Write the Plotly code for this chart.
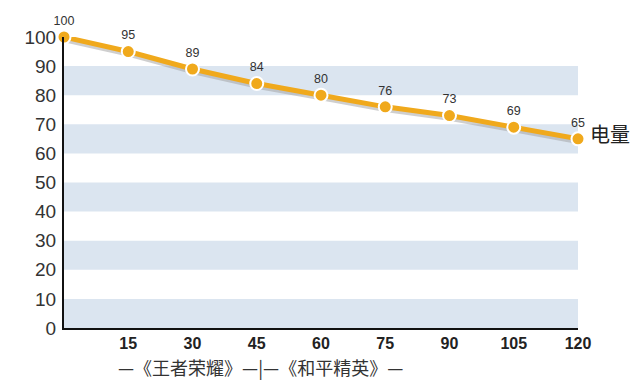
import plotly.graph_objects as go

minutes = [0, 15, 30, 45, 60, 75, 90, 105, 120]
battery = [100, 95, 89, 84, 80, 76, 73, 69, 65]
x_ticks = [15, 30, 45, 60, 75, 90, 105, 120]
y_ticks = [0, 10, 20, 30, 40, 50, 60, 70, 80, 90, 100]
band_starts = [0, 20, 40, 60, 80]
series_name = "电量"
subtitle = "—《王者荣耀》—|—《和平精英》—"

orange = "#f0a91c"
fig = go.Figure()

# shadow
fig.add_trace(go.Scatter(
    x=minutes, y=[v - 0.9 for v in battery], mode="lines",
    line=dict(color="rgba(160,160,160,0.5)", width=5),
    hoverinfo="skip", showlegend=False, cliponaxis=False))

fig.add_trace(go.Scatter(
    x=minutes, y=battery, mode="lines+markers+text",
    line=dict(color=orange, width=5),
    marker=dict(color=orange, size=13, line=dict(color="white", width=2)),
    text=[str(v) for v in battery], textposition="top center",
    textfont=dict(size=12.5, color="#333", family="Arial, Liberation Sans"),
    showlegend=False, cliponaxis=False))

shapes = []
for b in band_starts:
    shapes.append(dict(type="rect", xref="x", yref="y", x0=0, x1=120, y0=b, y1=b + 10,
                       fillcolor="#dbe5f0", line=dict(width=0), layer="below"))

fig.update_layout(
    width=640, height=389,
    margin=dict(l=64, r=62, t=37, b=61, autoexpand=False),
    plot_bgcolor="white", paper_bgcolor="white",
    shapes=shapes,
    xaxis=dict(range=[0, 120], tickvals=x_ticks, ticktext=[str(t) for t in x_ticks],
               showgrid=False, zeroline=False, showline=True, linecolor="#111", linewidth=2,
               ticks="", tickfont=dict(size=16, color="#222", family="Arial, Liberation Sans", weight="bold"),
               ticklabelstandoff=0),
    yaxis=dict(range=[0, 100], tickvals=y_ticks, showgrid=False, zeroline=False,
               showline=True, linecolor="#111", linewidth=2, ticks="",
               tickfont=dict(size=19, color="#333", family="Arial, Liberation Sans"),
               ticklabelstandoff=2),
    annotations=[
        dict(x=120, y=65, xref="x", yref="y", text=series_name, showarrow=False,
             xanchor="left", yanchor="middle", xshift=10, yshift=5,
             font=dict(size=20, color="#222", family="Noto Sans CJK SC")),
        dict(x=0.383, y=-0.134, xref="paper", yref="paper", text=subtitle, showarrow=False,
             xanchor="center", yanchor="middle",
             font=dict(size=18, color="#333", family="Noto Sans CJK SC")),
    ],
)

fig.write_html("out.html", config={"displayModeBar": False},
               post_script="document.body.style.margin='0';document.body.style.overflow='hidden';")
